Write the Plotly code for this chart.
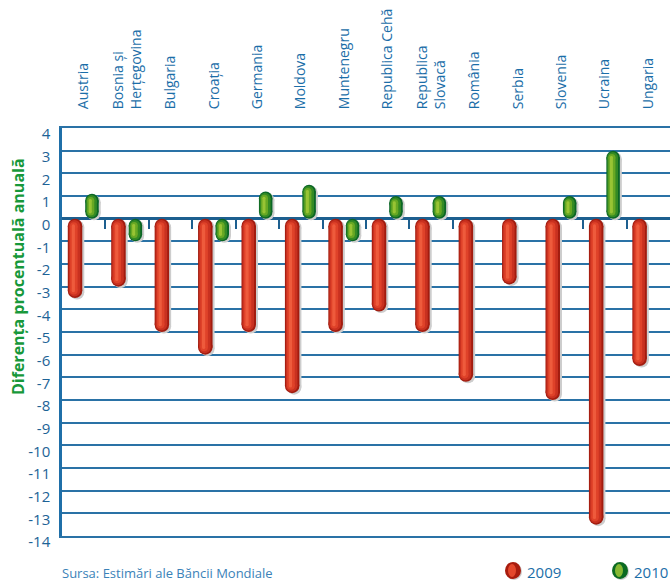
import plotly.graph_objects as go

countries = ["Austria", "Bosnia și<br>Herțegovina", "Bulgaria", "Croația", "Germania",
             "Moldova", "Muntenegru", "Republica Cehă", "Republica<br>Slovacă", "România",
             "Serbia", "Slovenia", "Ucraina", "Ungaria"]
v2009 = [-3.5, -3.0, -5.0, -6.0, -5.0, -7.7, -5.0, -4.1, -5.0, -7.2, -2.9, -8.0, -13.5, -6.5]
v2010 = [1.1, -1.0, None, -1.0, 1.2, 1.5, -1.0, 1.0, 1.0, None, None, 1.0, 3.0, None]
y_ticks = list(range(-14, 5))

FONT = "Open Sans"
BLUE = "#1d6396"
GRID = "#2a72a6"

# plot area in pixels
L, R, T, B = 62, 670, 128, 536
Y0, Y1 = -14, 4
PX_PER_UNIT = (B - T) / (Y1 - Y0)
PX_PER_CAT = (R - L) / len(countries)

def px(x):
    return (x - L) / (R - L)
def py(y):
    return (B - y) / (B - T)

fig = go.Figure()

# (values, category offset, capsule width px, layers: color, width fraction, x shift px, y shift px)
series = [
    (v2009, -0.2, 14.5, [("#cdcdcd", 1.0, 2.0, 1.5), ("#a21c0f", 1.0, 0, 0), ("#c83120", 0.8, -0.5, 0),
                         ("#df4229", 0.52, -1.2, 0), ("#ee5b3c", 0.22, -1.7, 0)]),
    (v2010, 0.19, 13.5, [("#cdcdcd", 1.0, 2.0, 1.5), ("#0b6626", 1.0, 0, 0), ("#348a24", 0.8, -0.5, 0),
                         ("#68a824", 0.52, -1.2, 0), ("#98c434", 0.22, -1.7, 0)]),
]

for vals, off, wpx, layers in series:
    r = (wpx / 2) / PX_PER_UNIT
    for color, wf, sx, sy in layers:
        xs, ys = [], []
        for i, v in enumerate(vals):
            if v is None:
                continue
            s = 1 if v > 0 else -1
            x = i + off + sx / PX_PER_CAT
            dy = -sy / PX_PER_UNIT
            xs += [x, x, None]
            ys += [s * r + dy, v - s * r + dy, None]
        w = wpx * wf
        fig.add_trace(go.Scatter(x=xs, y=ys, mode="lines+markers", connectgaps=False,
                                 line=dict(color=color, width=w),
                                 marker=dict(color=color, size=w, line_width=0),
                                 showlegend=False, hoverinfo="skip"))

# category separator ticks on the zero line
sep_ticks = [i + 0.5 for i in range(len(countries) - 1) if i not in (9, 10)]
fig.add_trace(go.Scatter(x=[0], y=[None], xaxis="x2", showlegend=False, hoverinfo="skip"))

xr = [-0.5, len(countries) - 0.5]
fig.update_layout(
    width=670, height=582,
    margin=dict(l=L, r=0, t=T, b=582 - B),
    paper_bgcolor="white", plot_bgcolor="white",
    font=dict(family=FONT, color=BLUE),
    xaxis=dict(range=xr, tickmode="array", tickvals=list(range(len(countries))), ticktext=countries,
               side="top", tickangle=-90,
               tickfont=dict(size=14, color="#1b6ea8", family=FONT), ticks="", ticklabelstandoff=14,
               showgrid=False, showline=True, mirror=True, linecolor=GRID, linewidth=2,
               zeroline=False),
    xaxis2=dict(range=xr, overlaying="x", anchor="free", position=(0 - Y0) / (Y1 - Y0), side="bottom",
                tickmode="array", tickvals=sep_ticks,
                ticks="outside", ticklen=9, tickwidth=1.5, tickcolor="#1d5f8f",
                showticklabels=False, showgrid=False, showline=False, zeroline=False),
    yaxis=dict(range=[Y0, Y1], tickmode="array", tickvals=y_ticks, ticktext=[str(t) for t in y_ticks],
               tickfont=dict(size=15, color=BLUE, family=FONT), ticks="", ticklabelstandoff=6,
               ticklabelshift=6,
               showgrid=True, gridcolor=GRID, gridwidth=1.5,
               zeroline=True, zerolinecolor="#1d5f8f", zerolinewidth=2.5,
               showline=True, linecolor="#1f6fa8", linewidth=2.5),
    showlegend=False,
)

fig.add_annotation(text="<b>Diferența procentuală anuală</b>", textangle=-90, xref="paper", yref="paper",
                   x=px(18), y=py(277), showarrow=False, font=dict(size=16, color="#17983a", family=FONT),
                   xanchor="center", yanchor="middle")
fig.add_annotation(text="Sursa: Estimări ale Băncii Mondiale", xref="paper", yref="paper",
                   x=px(60), y=py(573), showarrow=False, xanchor="left", yanchor="middle",
                   font=dict(size=13, color="#3b82b8", family=FONT))

legend_items = [("2009", 513, "#a81c0e", "#e4472c"), ("2010", 620, "#0b6a22", "#86b832")]
for label, cx, dark, light in legend_items:
    fig.add_shape(type="circle", xref="paper", yref="paper", x0=px(cx - 7), x1=px(cx + 9),
                  y0=py(580), y1=py(563), fillcolor="#cccccc", line_width=0)
    fig.add_shape(type="circle", xref="paper", yref="paper", x0=px(cx - 8), x1=px(cx + 8),
                  y0=py(579), y1=py(562), fillcolor=dark, line_width=0)
    fig.add_shape(type="circle", xref="paper", yref="paper", x0=px(cx - 5), x1=px(cx + 3),
                  y0=py(577), y1=py(564), fillcolor=light, line_width=0)
    fig.add_annotation(text=label, xref="paper", yref="paper", x=px(cx + 12), y=py(572),
                       showarrow=False, xanchor="left", yanchor="middle",
                       font=dict(size=15, color="#1b6ea8", family=FONT))

fig.write_html("out.html", config={"displayModeBar": False},
               post_script="document.body.style.margin='0';")
